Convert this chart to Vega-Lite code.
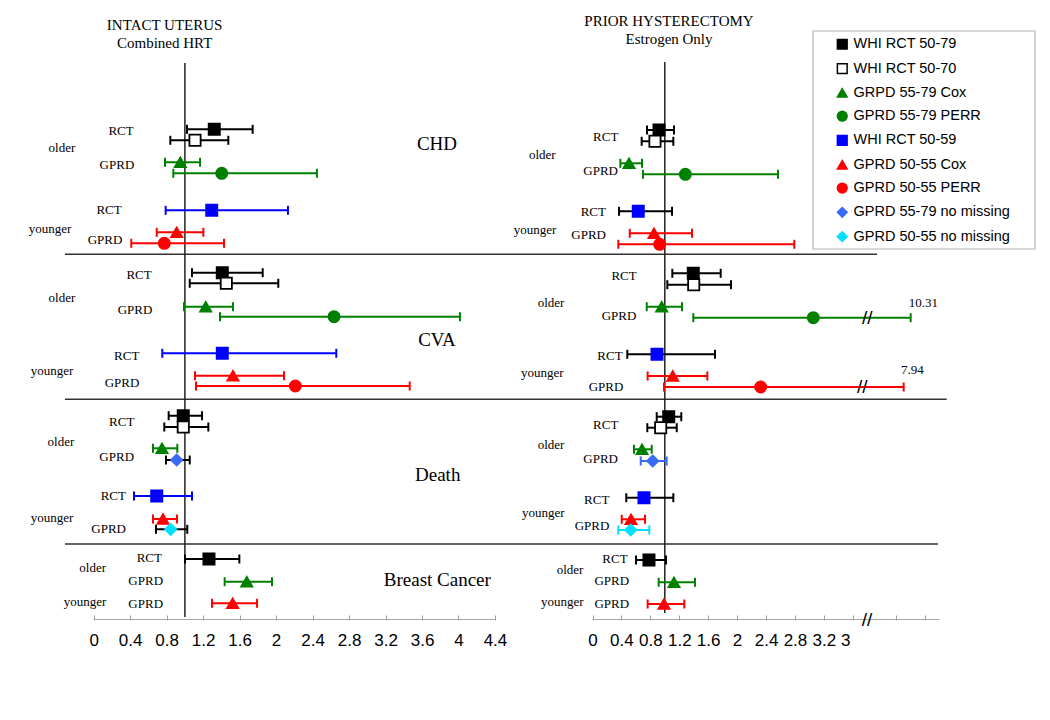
{
  "$schema": "https://vega.github.io/schema/vega-lite/v6.json",
  "padding": 0,
  "background": "white",
  "spacing": 0,
  "bounds": "flush",
  "config": {
    "view": {"stroke": null},
    "legend": {
      "padding": 5,
      "symbolOffset": 17,
      "labelFont": "Liberation Sans",
      "labelFontSize": 14.5,
      "labelColor": "#000",
      "labelOffset": 4,
      "rowPadding": 7.3,
      "symbolSize": 95,
      "symbolStrokeWidth": 1.5,
      "labelLimit": 400
    }
  },
  "datasets": {
    "left": [
      {"outcome":"CHD","s":"WHI RCT 50-79","ci":"WHI RCT 50-79","pos":12.93,"est":1.322,"lo":1.023,"hi":1.743},
      {"outcome":"CHD","s":"WHI RCT 50-70","ci":"WHI RCT 50-70","pos":14.03,"est":1.111,"lo":0.84,"hi":1.476},
      {"outcome":"CHD","s":"GRPD 55-79 Cox","ci":"GRPD 55-79 Cox","pos":16.23,"est":0.95,"lo":0.782,"hi":1.166},
      {"outcome":"CHD","s":"GPRD 55-79 PERR","ci":"GPRD 55-79 PERR","pos":17.33,"est":1.404,"lo":0.873,"hi":2.448},
      {"outcome":"CHD","s":"WHI RCT 50-59","ci":"WHI RCT 50-59","pos":21.03,"est":1.294,"lo":0.789,"hi":2.13},
      {"outcome":"CHD","s":"GPRD 50-55 Cox","ci":"GPRD 50-55 Cox","pos":23.23,"est":0.91,"lo":0.691,"hi":1.202},
      {"outcome":"CHD","s":"GPRD 50-55 PERR","ci":"GPRD 50-55 PERR","pos":24.33,"est":0.774,"lo":0.412,"hi":1.429},
      {"outcome":"CVA","s":"WHI RCT 50-79","ci":"WHI RCT 50-79","pos":27.27,"est":1.41,"lo":1.078,"hi":1.853},
      {"outcome":"CVA","s":"WHI RCT 50-70","ci":"WHI RCT 50-70","pos":28.33,"est":1.454,"lo":1.053,"hi":2.024},
      {"outcome":"CVA","s":"GRPD 55-79 Cox","ci":"GRPD 55-79 Cox","pos":30.67,"est":1.228,"lo":0.99,"hi":1.527},
      {"outcome":"CVA","s":"GPRD 55-79 PERR","ci":"GPRD 55-79 PERR","pos":31.67,"est":2.635,"lo":1.385,"hi":4.016},
      {"outcome":"CVA","s":"WHI RCT 50-59","ci":"WHI RCT 50-59","pos":35.33,"est":1.41,"lo":0.752,"hi":2.66},
      {"outcome":"CVA","s":"GPRD 50-55 Cox","ci":"GPRD 50-55 Cox","pos":37.57,"est":1.527,"lo":1.111,"hi":2.087},
      {"outcome":"CVA","s":"GPRD 50-55 PERR","ci":"GPRD 50-55 PERR","pos":38.6,"est":2.211,"lo":1.122,"hi":3.465},
      {"outcome":"Death","s":"WHI RCT 50-79","ci":"WHI RCT 50-79","pos":41.57,"est":0.982,"lo":0.822,"hi":1.188},
      {"outcome":"Death","s":"WHI RCT 50-70","ci":"WHI RCT 50-70","pos":42.7,"est":0.982,"lo":0.774,"hi":1.257},
      {"outcome":"Death","s":"GRPD 55-79 Cox","ci":"GRPD 55-79 Cox","pos":44.83,"est":0.749,"lo":0.65,"hi":0.917},
      {"outcome":"Death","s":"GPRD 55-79 no missing","ci":"black","pos":46.0,"est":0.91,"lo":0.793,"hi":1.053},
      {"outcome":"Death","s":"WHI RCT 50-59","ci":"WHI RCT 50-59","pos":49.6,"est":0.691,"lo":0.442,"hi":1.078},
      {"outcome":"Death","s":"GPRD 50-55 Cox","ci":"GPRD 50-55 Cox","pos":51.9,"est":0.76,"lo":0.65,"hi":0.913},
      {"outcome":"Death","s":"GPRD 50-55 no missing","ci":"black","pos":52.93,"est":0.844,"lo":0.683,"hi":1.026},
      {"outcome":"Breast Cancer","s":"WHI RCT 50-79","ci":"WHI RCT 50-79","pos":55.9,"est":1.264,"lo":1.001,"hi":1.597},
      {"outcome":"Breast Cancer","s":"GRPD 55-79 Cox","ci":"GRPD 55-79 Cox","pos":58.17,"est":1.678,"lo":1.436,"hi":1.955},
      {"outcome":"Breast Cancer","s":"GPRD 50-55 Cox","ci":"GPRD 50-55 Cox","pos":60.33,"est":1.524,"lo":1.297,"hi":1.791}
    ],
    "right": [
      {"outcome":"CHD","s":"WHI RCT 50-79","ci":"WHI RCT 50-79","pos":13.0,"est":0.92,"lo":0.754,"hi":1.127},
      {"outcome":"CHD","s":"WHI RCT 50-70","ci":"WHI RCT 50-70","pos":14.13,"est":0.864,"lo":0.68,"hi":1.118},
      {"outcome":"CHD","s":"GRPD 55-79 Cox","ci":"GRPD 55-79 Cox","pos":16.33,"est":0.505,"lo":0.385,"hi":0.685},
      {"outcome":"CHD","s":"GPRD 55-79 PERR","ci":"GPRD 55-79 PERR","pos":17.43,"est":1.284,"lo":0.698,"hi":2.566},
      {"outcome":"CHD","s":"WHI RCT 50-59","ci":"black","pos":21.13,"est":0.633,"lo":0.367,"hi":1.1},
      {"outcome":"CHD","s":"GPRD 50-55 Cox","ci":"GPRD 50-55 Cox","pos":23.33,"est":0.851,"lo":0.515,"hi":1.376},
      {"outcome":"CHD","s":"GPRD 50-55 PERR","ci":"GPRD 50-55 PERR","pos":24.43,"est":0.929,"lo":0.357,"hi":2.791},
      {"outcome":"CVA","s":"WHI RCT 50-79","ci":"WHI RCT 50-79","pos":27.33,"est":1.394,"lo":1.104,"hi":1.773},
      {"outcome":"CVA","s":"WHI RCT 50-70","ci":"WHI RCT 50-70","pos":28.47,"est":1.4,"lo":1.035,"hi":1.916},
      {"outcome":"CVA","s":"GRPD 55-79 Cox","ci":"GRPD 55-79 Cox","pos":30.67,"est":0.957,"lo":0.75,"hi":1.238},
      {"outcome":"CVA","s":"GPRD 55-79 PERR","ci":"GPRD 55-79 PERR","pos":31.77,"est":3.054,"lo":1.394,"hi":4.401},
      {"outcome":"CVA","s":"WHI RCT 50-59","ci":"black","pos":35.43,"est":0.892,"lo":0.481,"hi":1.694},
      {"outcome":"CVA","s":"GPRD 50-55 Cox","ci":"GPRD 50-55 Cox","pos":37.6,"est":1.109,"lo":0.763,"hi":1.588},
      {"outcome":"CVA","s":"GPRD 50-55 PERR","ci":"GPRD 50-55 PERR","pos":38.7,"est":2.326,"lo":0.989,"hi":4.304},
      {"outcome":"Death","s":"WHI RCT 50-79","ci":"WHI RCT 50-79","pos":41.67,"est":1.054,"lo":0.888,"hi":1.228},
      {"outcome":"Death","s":"WHI RCT 50-70","ci":"WHI RCT 50-70","pos":42.77,"est":0.943,"lo":0.758,"hi":1.165},
      {"outcome":"Death","s":"GRPD 55-79 Cox","ci":"GRPD 55-79 Cox","pos":44.93,"est":0.685,"lo":0.574,"hi":0.819},
      {"outcome":"Death","s":"GPRD 55-79 no missing","ci":"GPRD 55-79 no missing","pos":46.1,"est":0.833,"lo":0.667,"hi":1.026},
      {"outcome":"Death","s":"WHI RCT 50-59","ci":"black","pos":49.77,"est":0.712,"lo":0.467,"hi":1.118},
      {"outcome":"Death","s":"GPRD 50-55 Cox","ci":"GPRD 50-55 Cox","pos":51.93,"est":0.533,"lo":0.404,"hi":0.726},
      {"outcome":"Death","s":"GPRD 50-55 no missing","ci":"GPRD 50-55 no missing","pos":53.0,"est":0.528,"lo":0.357,"hi":0.786},
      {"outcome":"Breast Cancer","s":"WHI RCT 50-79","ci":"WHI RCT 50-79","pos":56.0,"est":0.781,"lo":0.602,"hi":1.017},
      {"outcome":"Breast Cancer","s":"GRPD 55-79 Cox","ci":"GRPD 55-79 Cox","pos":58.23,"est":1.127,"lo":0.915,"hi":1.418},
      {"outcome":"Breast Cancer","s":"GPRD 50-55 Cox","ci":"GPRD 50-55 Cox","pos":60.4,"est":0.989,"lo":0.763,"hi":1.27}
    ],
    "leftSep": [
      {"pos":25.43,"x1":-0.315,"x2":4.5647},
      {"pos":39.93,"x1":-0.315,"x2":4.5647},
      {"pos":54.4,"x1":-0.315,"x2":4.5647}
    ],
    "rightSep": [
      {"pos":25.43,"x1":-1.1411,"x2":3.935},
      {"pos":39.93,"x1":-1.1411,"x2":4.899},
      {"pos":54.4,"x1":-1.1411,"x2":4.779}
    ],
    "leftRef": [{"x":1,"p1":6.3,"p2":61.7}],
    "rightRef": [{"x":1,"p1":6.2,"p2":61.3}],
    "leftAxis": [{"a":0,"b":4.4,"pos":61.95}],
    "rightAxis": [{"a":0,"b":4.8,"pos":61.95}],
    "rightExtraTick": [{"x":3.502,"pos":64.1,"t":"3"}],
    "legendBox": [{"x1":3.05,"x2":6.12,"p1":3.1,"p2":24.9}],
    "leftLabels": [
      {"x":0.3,"pos":13.07,"t":"RCT"},
      {"x":-0.348,"pos":14.8,"t":"older"},
      {"x":0.255,"pos":16.5,"t":"GPRD"},
      {"x":0.168,"pos":21.0,"t":"RCT"},
      {"x":-0.479,"pos":22.9,"t":"younger"},
      {"x":0.124,"pos":24.0,"t":"GPRD"},
      {"x":0.497,"pos":27.5,"t":"RCT"},
      {"x":-0.348,"pos":29.8,"t":"older"},
      {"x":0.453,"pos":31.0,"t":"GPRD"},
      {"x":0.362,"pos":35.57,"t":"RCT"},
      {"x":-0.457,"pos":37.1,"t":"younger"},
      {"x":0.31,"pos":38.33,"t":"GPRD"},
      {"x":0.307,"pos":42.23,"t":"RCT"},
      {"x":-0.359,"pos":44.23,"t":"older"},
      {"x":0.252,"pos":45.67,"t":"GPRD"},
      {"x":0.215,"pos":49.6,"t":"RCT"},
      {"x":-0.457,"pos":51.83,"t":"younger"},
      {"x":0.164,"pos":52.93,"t":"GPRD"},
      {"x":0.61,"pos":55.83,"t":"RCT"},
      {"x":-0.011,"pos":56.83,"t":"older"},
      {"x":0.57,"pos":58.07,"t":"GPRD"},
      {"x":-0.095,"pos":60.17,"t":"younger"},
      {"x":0.57,"pos":60.43,"t":"GPRD"}
    ],
    "rightLabels": [
      {"x":0.183,"pos":13.67,"t":"RCT"},
      {"x":-0.694,"pos":15.5,"t":"older"},
      {"x":0.113,"pos":17.07,"t":"GPRD"},
      {"x":0.011,"pos":21.17,"t":"RCT"},
      {"x":-0.795,"pos":23.0,"t":"younger"},
      {"x":-0.053,"pos":23.5,"t":"GPRD"},
      {"x":0.436,"pos":27.6,"t":"RCT"},
      {"x":-0.574,"pos":30.27,"t":"older"},
      {"x":0.367,"pos":31.57,"t":"GPRD"},
      {"x":0.242,"pos":35.6,"t":"RCT"},
      {"x":-0.694,"pos":37.33,"t":"younger"},
      {"x":0.187,"pos":38.67,"t":"GPRD"},
      {"x":0.183,"pos":42.5,"t":"RCT"},
      {"x":-0.574,"pos":44.5,"t":"older"},
      {"x":0.113,"pos":45.9,"t":"GPRD"},
      {"x":0.058,"pos":50.0,"t":"RCT"},
      {"x":-0.68,"pos":51.33,"t":"younger"},
      {"x":-0.007,"pos":52.57,"t":"GPRD"},
      {"x":0.311,"pos":55.93,"t":"RCT"},
      {"x":-0.311,"pos":57.0,"t":"older"},
      {"x":0.266,"pos":58.07,"t":"GPRD"},
      {"x":-0.418,"pos":60.23,"t":"younger"},
      {"x":0.266,"pos":60.43,"t":"GPRD"}
    ],
    "leftOutcomes": [
      {"x":3.764,"pos":14.4,"t":"CHD"},
      {"x":3.764,"pos":34.0,"t":"CVA"},
      {"x":3.772,"pos":47.5,"t":"Death"},
      {"x":3.768,"pos":58.0,"t":"Breast Cancer"}
    ],
    "leftTitle": [
      {"x":0.778,"pos":2.5,"t":"INTACT UTERUS"},
      {"x":0.778,"pos":4.33,"t":"Combined HRT"}
    ],
    "rightTitle": [
      {"x":1.058,"pos":2.08,"t":"PRIOR HYSTERECTOMY"},
      {"x":1.058,"pos":3.93,"t":"Estrogen Only"}
    ],
    "rightNotes": [
      {"x":4.575,"pos":30.27,"t":"10.31"},
      {"x":4.423,"pos":37.0,"t":"7.94"}
    ],
    "rightBreaks": [
      {"x":3.801,"pos":31.77},
      {"x":3.732,"pos":38.7},
      {"x":3.797,"pos":61.95}
    ]
  },
  "resolve": {"scale": {"x": "independent", "y": "independent"}},
  "hconcat": [
    {
      "width": 510,
      "height": 620,
      "layer": [
        {
          "data": {"name": "leftAxis"},
          "mark": {"type": "rule", "color": "#a8a8a8", "strokeWidth": 1},
          "encoding": {
            "x": {"field": "a", "type": "quantitative", "title": null, "scale": {"domain": [-1.0274, 4.5647], "nice": false, "zero": false},
              "axis": {"title": null, "values": [0,0.2,0.4,0.6,0.8,1,1.2,1.4,1.6,1.8,2,2.2,2.4,2.6,2.8,3,3.2,3.4,3.6,3.8,4,4.2,4.4], "format": "~g", "labelExpr": "round(datum.value*10) % 4 == 0 ? datum.label : ''", "domain": false, "grid": false, "ticks": true, "tickSize": -5, "tickColor": "#a0a0a0", "labelFont": "Liberation Sans", "labelFontSize": 17, "labelColor": "#000", "labelPadding": 17, "labelFlush": false, "labelOverlap": false}},
            "x2": {"field": "b"},
            "y": {"field": "pos", "type": "quantitative", "scale": {"domain": [0, 62], "reverse": true, "nice": false, "zero": false}, "axis": null}
          }
        },
        {
          "data": {"name": "leftSep"},
          "mark": {"type": "rule", "color": "#333", "strokeWidth": 1.5},
          "encoding": {
            "x": {"field": "x1", "type": "quantitative", "title": null},
            "x2": {"field": "x2"},
            "y": {"field": "pos", "type": "quantitative", "axis": null}
          }
        },
        {
          "data": {"name": "leftRef"},
          "mark": {"type": "rule", "color": "#222", "strokeWidth": 1.5},
          "encoding": {
            "x": {"field": "x", "type": "quantitative", "title": null},
            "y": {"field": "p1", "type": "quantitative", "axis": null},
            "y2": {"field": "p2"}
          }
        },
        {
          "data": {"name": "left"},
          "mark": {"type": "rule", "strokeWidth": 2},
          "encoding": {
            "x": {"field": "lo", "type": "quantitative", "title": null},
            "x2": {"field": "hi"},
            "y": {"field": "pos", "type": "quantitative", "axis": null},
            "color": {"field": "ci", "type": "nominal", "legend": null, "scale": {"domain": ["WHI RCT 50-79","WHI RCT 50-70","GRPD 55-79 Cox","GPRD 55-79 PERR","WHI RCT 50-59","GPRD 50-55 Cox","GPRD 50-55 PERR","GPRD 55-79 no missing","GPRD 50-55 no missing","black"], "range": ["#000000","#000000","#008000","#008000","#0000ff","#ff0000","#ff0000","#3a6bf5","#00e0ff","#000000"]}}
          }
        },
        {
          "data": {"name": "left"},
          "mark": {"type": "rule", "strokeWidth": 2, "yOffset": -4.5, "y2Offset": 4.5},
          "encoding": {
            "x": {"field": "lo", "type": "quantitative", "title": null},
            "y": {"field": "pos", "type": "quantitative", "axis": null},
            "y2": {"field": "pos"},
            "color": {"field": "ci", "type": "nominal", "legend": null}
          }
        },
        {
          "data": {"name": "left"},
          "mark": {"type": "rule", "strokeWidth": 2, "yOffset": -4.5, "y2Offset": 4.5},
          "encoding": {
            "x": {"field": "hi", "type": "quantitative", "title": null},
            "y": {"field": "pos", "type": "quantitative", "axis": null},
            "y2": {"field": "pos"},
            "color": {"field": "ci", "type": "nominal", "legend": null}
          }
        },
        {
          "data": {"name": "left"},
          "mark": {"type": "point", "filled": true, "size": 125, "strokeWidth": 1.8, "opacity": 1},
          "encoding": {
            "x": {"field": "est", "type": "quantitative", "title": null},
            "y": {"field": "pos", "type": "quantitative", "axis": null},
            "fill": {"field": "s", "type": "nominal", "title": null, "scale": {"domain": ["WHI RCT 50-79","WHI RCT 50-70","GRPD 55-79 Cox","GPRD 55-79 PERR","WHI RCT 50-59","GPRD 50-55 Cox","GPRD 50-55 PERR","GPRD 55-79 no missing","GPRD 50-55 no missing"], "range": ["#000000","#ffffff","#008000","#008000","#0000ff","#ff0000","#ff0000","#3a6bf5","#00e0ff"]}, "legend": {"orient": "none", "legendX": 813, "legendY": 32}},
            "stroke": {"field": "s", "type": "nominal", "title": null, "scale": {"domain": ["WHI RCT 50-79","WHI RCT 50-70","GRPD 55-79 Cox","GPRD 55-79 PERR","WHI RCT 50-59","GPRD 50-55 Cox","GPRD 50-55 PERR","GPRD 55-79 no missing","GPRD 50-55 no missing"], "range": ["#000000","#000000","#008000","#008000","#0000ff","#ff0000","#ff0000","#3a6bf5","#00e0ff"]}, "legend": {"orient": "none", "legendX": 813, "legendY": 32}},
            "shape": {"field": "s", "type": "nominal", "title": null, "scale": {"domain": ["WHI RCT 50-79","WHI RCT 50-70","GRPD 55-79 Cox","GPRD 55-79 PERR","WHI RCT 50-59","GPRD 50-55 Cox","GPRD 50-55 PERR","GPRD 55-79 no missing","GPRD 50-55 no missing"], "range": ["square","square","triangle-up","circle","square","triangle-up","circle","diamond","diamond"]}, "legend": {"orient": "none", "legendX": 813, "legendY": 32}}
          }
        },
        {
          "data": {"name": "leftLabels"},
          "mark": {"type": "text", "font": "Liberation Serif", "fontSize": 13, "color": "#000", "align": "center", "baseline": "middle"},
          "encoding": {
            "x": {"field": "x", "type": "quantitative", "title": null},
            "y": {"field": "pos", "type": "quantitative", "axis": null},
            "text": {"field": "t"}
          }
        },
        {
          "data": {"name": "leftOutcomes"},
          "mark": {"type": "text", "font": "Liberation Serif", "fontSize": 19, "color": "#000", "align": "center", "baseline": "middle"},
          "encoding": {
            "x": {"field": "x", "type": "quantitative", "title": null},
            "y": {"field": "pos", "type": "quantitative", "axis": null},
            "text": {"field": "t"}
          }
        },
        {
          "data": {"name": "leftTitle"},
          "mark": {"type": "text", "font": "Liberation Serif", "fontSize": 15, "color": "#000", "align": "center", "baseline": "middle"},
          "encoding": {
            "x": {"field": "x", "type": "quantitative", "title": null},
            "y": {"field": "pos", "type": "quantitative", "axis": null},
            "text": {"field": "t"}
          }
        }
      ]
    },
    {
      "width": 540,
      "height": 620,
      "layer": [
        {
          "data": {"name": "rightAxis"},
          "mark": {"type": "rule", "color": "#a8a8a8", "strokeWidth": 1},
          "encoding": {
            "x": {"field": "a", "type": "quantitative", "title": null, "scale": {"domain": [-1.1411, 6.3278], "nice": false, "zero": false},
              "axis": {"title": null, "values": [0,0.2,0.4,0.6,0.8,1,1.2,1.4,1.6,1.8,2,2.2,2.4,2.6,2.8,3,3.2,3.4,3.6,4,4.2,4.4,4.6,4.8], "format": "~g", "labelExpr": "(round(datum.value*10) % 4 == 0 && datum.value < 3.3) ? datum.label : ''", "domain": false, "grid": false, "ticks": true, "tickSize": -5, "tickColor": "#a0a0a0", "labelFont": "Liberation Sans", "labelFontSize": 17, "labelColor": "#000", "labelPadding": 17, "labelFlush": false, "labelOverlap": false}},
            "x2": {"field": "b"},
            "y": {"field": "pos", "type": "quantitative", "scale": {"domain": [0, 62], "reverse": true, "nice": false, "zero": false}, "axis": null}
          }
        },
        {
          "data": {"name": "rightExtraTick"},
          "mark": {"type": "text", "font": "Liberation Sans", "fontSize": 17, "color": "#000", "align": "center", "baseline": "middle"},
          "encoding": {
            "x": {"field": "x", "type": "quantitative", "title": null},
            "y": {"field": "pos", "type": "quantitative", "axis": null},
            "text": {"field": "t"}
          }
        },
        {
          "data": {"name": "legendBox"},
          "mark": {"type": "rect", "fill": "white", "stroke": "#b4b4b4", "strokeWidth": 1.2},
          "encoding": {
            "x": {"field": "x1", "type": "quantitative", "title": null},
            "x2": {"field": "x2"},
            "y": {"field": "p1", "type": "quantitative", "axis": null},
            "y2": {"field": "p2"}
          }
        },
        {
          "data": {"name": "rightSep"},
          "mark": {"type": "rule", "color": "#333", "strokeWidth": 1.5},
          "encoding": {
            "x": {"field": "x1", "type": "quantitative", "title": null},
            "x2": {"field": "x2"},
            "y": {"field": "pos", "type": "quantitative", "axis": null}
          }
        },
        {
          "data": {"name": "rightRef"},
          "mark": {"type": "rule", "color": "#222", "strokeWidth": 1.5},
          "encoding": {
            "x": {"field": "x", "type": "quantitative", "title": null},
            "y": {"field": "p1", "type": "quantitative", "axis": null},
            "y2": {"field": "p2"}
          }
        },
        {
          "data": {"name": "right"},
          "mark": {"type": "rule", "strokeWidth": 2},
          "encoding": {
            "x": {"field": "lo", "type": "quantitative", "title": null},
            "x2": {"field": "hi"},
            "y": {"field": "pos", "type": "quantitative", "axis": null},
            "color": {"field": "ci", "type": "nominal", "legend": null}
          }
        },
        {
          "data": {"name": "right"},
          "mark": {"type": "rule", "strokeWidth": 2, "yOffset": -4.5, "y2Offset": 4.5},
          "encoding": {
            "x": {"field": "lo", "type": "quantitative", "title": null},
            "y": {"field": "pos", "type": "quantitative", "axis": null},
            "y2": {"field": "pos"},
            "color": {"field": "ci", "type": "nominal", "legend": null}
          }
        },
        {
          "data": {"name": "right"},
          "mark": {"type": "rule", "strokeWidth": 2, "yOffset": -4.5, "y2Offset": 4.5},
          "encoding": {
            "x": {"field": "hi", "type": "quantitative", "title": null},
            "y": {"field": "pos", "type": "quantitative", "axis": null},
            "y2": {"field": "pos"},
            "color": {"field": "ci", "type": "nominal", "legend": null}
          }
        },
        {
          "data": {"name": "rightBreaks"},
          "mark": {"type": "text", "font": "Liberation Sans", "fontSize": 19, "color": "#000", "align": "center", "baseline": "middle", "text": "//"},
          "encoding": {
            "x": {"field": "x", "type": "quantitative", "title": null},
            "y": {"field": "pos", "type": "quantitative", "axis": null}
          }
        },
        {
          "data": {"name": "right"},
          "mark": {"type": "point", "filled": true, "size": 125, "strokeWidth": 1.8, "opacity": 1},
          "encoding": {
            "x": {"field": "est", "type": "quantitative", "title": null},
            "y": {"field": "pos", "type": "quantitative", "axis": null},
            "fill": {"field": "s", "type": "nominal", "title": null},
            "stroke": {"field": "s", "type": "nominal", "title": null},
            "shape": {"field": "s", "type": "nominal", "title": null}
          }
        },
        {
          "data": {"name": "rightLabels"},
          "mark": {"type": "text", "font": "Liberation Serif", "fontSize": 13, "color": "#000", "align": "center", "baseline": "middle"},
          "encoding": {
            "x": {"field": "x", "type": "quantitative", "title": null},
            "y": {"field": "pos", "type": "quantitative", "axis": null},
            "text": {"field": "t"}
          }
        },
        {
          "data": {"name": "rightNotes"},
          "mark": {"type": "text", "font": "Liberation Serif", "fontSize": 13, "color": "#000", "align": "center", "baseline": "middle"},
          "encoding": {
            "x": {"field": "x", "type": "quantitative", "title": null},
            "y": {"field": "pos", "type": "quantitative", "axis": null},
            "text": {"field": "t"}
          }
        },
        {
          "data": {"name": "rightTitle"},
          "mark": {"type": "text", "font": "Liberation Serif", "fontSize": 15, "color": "#000", "align": "center", "baseline": "middle"},
          "encoding": {
            "x": {"field": "x", "type": "quantitative", "title": null},
            "y": {"field": "pos", "type": "quantitative", "axis": null},
            "text": {"field": "t"}
          }
        }
      ]
    }
  ]
}
